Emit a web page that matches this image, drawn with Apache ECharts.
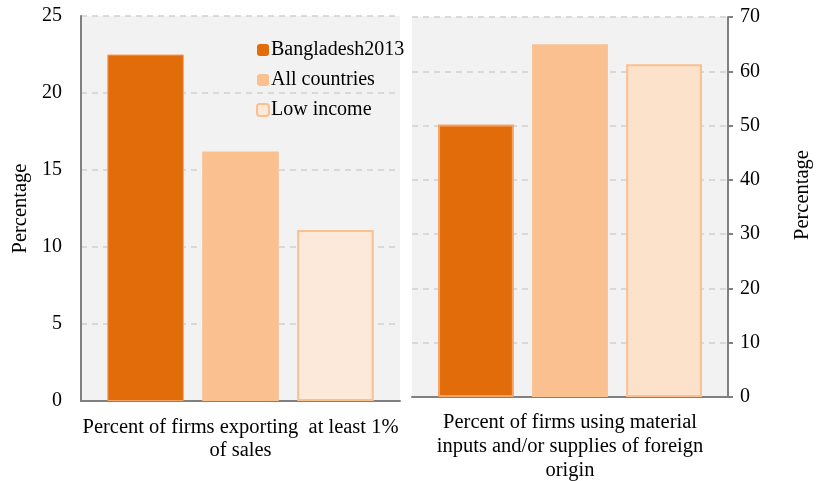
<!DOCTYPE html>
<html>
<head>
<meta charset="utf-8">
<script src="https://cdn.jsdelivr.net/npm/echarts@6/dist/echarts.min.js"></script>
<style>html,body{margin:0;padding:0;background:#fff}#c{width:822px;height:481px}</style>
</head>
<body>
<div id="c"></div>
<script>
const seriesNames = ['Bangladesh2013', 'All countries', 'Low income'];
const leftCategory = ['Percent of firms exporting  at least 1%\nof sales'];
const rightCategory = ['Percent of firms using material\ninputs and/or supplies of foreign\norigin'];
const leftValues = [22.5, 16.2, 11.1];
const rightValues = [50.2, 65.0, 61.3];
const leftTicks = [0, 5, 10, 15, 20, 25];
const rightTicks = [0, 10, 20, 30, 40, 50, 60, 70];

const FONT = 'Liberation Serif';
const fills = ['#E36C0A', '#FAC090', '#FDE9D9'];
const fillsRight = ['#E36C0A', '#FAC090', '#FCE2CB'];
const borders = ['#F4A466', '#FAC090', '#FAC090'];
const borderW = [1, 0, 2];

const chart = echarts.init(document.getElementById('c'));
const series = [];
seriesNames.forEach((n, i) => {
  series.push({
    name: n, type: 'bar', xAxisIndex: 0, yAxisIndex: 0,
    data: [leftValues[i]], barWidth: '24%', barGap: '24%',
    itemStyle: {color: fills[i], borderColor: borders[i], borderWidth: borderW[i]},
    emphasis: {disabled: true}
  });
});
seriesNames.forEach((n, i) => {
  series.push({
    name: n, type: 'bar', xAxisIndex: 1, yAxisIndex: 1,
    data: [rightValues[i]], barWidth: '24%', barGap: '24%',
    itemStyle: {color: fillsRight[i], borderColor: borders[i], borderWidth: i === 0 ? 2 : borderW[i]},
    emphasis: {disabled: true}
  });
});

const axisText = {color: '#000', fontFamily: FONT, fontSize: 20};
chart.setOption({
  animation: false,
  textStyle: {fontFamily: FONT},
  legend: {
    data: seriesNames.map(n => ({name: n, itemStyle: {borderWidth: n === 'Low income' ? 2 : 0}})),
    orient: 'vertical', left: 251, top: 35,
    itemWidth: 12, itemHeight: 12, itemGap: 10,
    textStyle: {color: '#000', fontFamily: FONT, fontSize: 20, padding: [0, 0, 0, -3]},
    selectedMode: false
  },
  grid: [
    {left: 81, right: 422, top: 16, bottom: 80, show: true, backgroundColor: '#F2F2F2', borderWidth: 0, outerBoundsMode: 'none', containLabel: false},
    {left: 412, right: 94, top: 17, bottom: 84, show: true, backgroundColor: '#F2F2F2', borderWidth: 0, outerBoundsMode: 'none', containLabel: false}
  ],
  xAxis: [
    {type: 'category', gridIndex: 0, data: leftCategory,
     axisLine: {lineStyle: {color: '#808080', width: 2}}, axisTick: {show: false},
     axisLabel: Object.assign({}, axisText, {fontSize: 20.5, margin: 15, lineHeight: 23})},
    {type: 'category', gridIndex: 1, data: rightCategory,
     axisLine: {lineStyle: {color: '#808080', width: 2}}, axisTick: {show: false},
     axisLabel: Object.assign({}, axisText, {fontSize: 20.5, margin: 14, lineHeight: 24})}
  ],
  yAxis: [
    {type: 'value', gridIndex: 0, min: leftTicks[0], max: leftTicks[leftTicks.length - 1], interval: 5,
     position: 'left', name: 'Percentage', nameLocation: 'middle', nameGap: 50,
     nameTextStyle: {color: '#000', fontFamily: FONT, fontSize: 20.5},
     axisLine: {show: true, lineStyle: {color: '#808080', width: 2}}, axisTick: {show: false},
     axisLabel: Object.assign({}, axisText, {margin: 19}),
     splitLine: {lineStyle: {color: '#D0D0D0', type: [6, 5], width: 1.5}}},
    {type: 'value', gridIndex: 1, min: rightTicks[0], max: rightTicks[rightTicks.length - 1], interval: 10,
     position: 'right', name: 'Percentage', nameLocation: 'middle', nameGap: 64,
     nameTextStyle: {color: '#000', fontFamily: FONT, fontSize: 20.5, padding: [0, 0, 0, 24]},
     axisLine: {show: true, lineStyle: {color: '#808080', width: 2}},
     axisTick: {show: true, length: 5, lineStyle: {color: '#808080', width: 2}},
     axisLabel: Object.assign({}, axisText, {margin: 12}),
     splitLine: {lineStyle: {color: '#D0D0D0', type: [6, 5], width: 1.5}}}
  ],
  series: series
});
</script>
</body>
</html>
